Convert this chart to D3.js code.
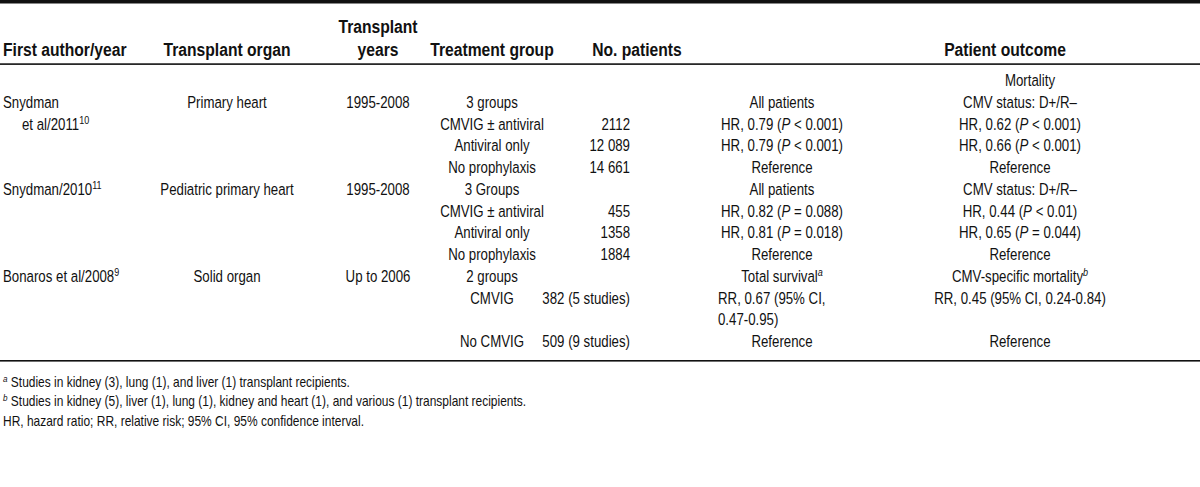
<!DOCTYPE html>
<html><head><meta charset="utf-8">
<script src="https://cdn.jsdelivr.net/npm/d3@7/dist/d3.min.js"></script>
<style>
html,body{margin:0;padding:0;background:#fff;}
svg{display:block;font-family:"Liberation Sans",Arial,Helvetica,sans-serif;}
</style></head><body>
<svg id="t" width="1200" height="487"></svg>
<script>
// ---- data ----
const headers = [
  {key:"author", lines:["First author/year"]},
  {key:"organ", lines:["Transplant organ"]},
  {key:"years", lines:["Transplant","years"]},
  {key:"group", lines:["Treatment group"]},
  {key:"patients", lines:["No. patients"]},
  {key:"outcome", lines:["Patient outcome"]}
];
const subHeader = "Mortality";
const authors = ["Snydman", "et al/2011^10^", "", "", "Snydman/2010^11^", "", "", "", "Bonaros et al/2008^9^", "", "", ""];
const organs = ["Primary heart", "", "", "", "Pediatric primary heart", "", "", "", "Solid organ", "", "", ""];
const years = ["1995-2008", "", "", "", "1995-2008", "", "", "", "Up to 2006", "", "", ""];
const groups = ["3 groups", "CMVIG ± antiviral", "Antiviral only", "No prophylaxis", "3 Groups", "CMVIG ± antiviral", "Antiviral only", "No prophylaxis", "2 groups", "CMVIG", "", "No CMVIG"];
const patients = ["", "2112", "12 089", "14 661", "", "455", "1358", "1884", "", "382 (5 studies)", "", "509 (9 studies)"];
const allPatients = ["All patients", "HR, 0.79 (*P* < 0.001)", "HR, 0.79 (*P* < 0.001)", "Reference", "All patients", "HR, 0.82 (*P* = 0.088)", "HR, 0.81 (*P* = 0.018)", "Reference", "Total survival^*a*^", "RR, 0.67 (95% CI,", "0.47-0.95)", "Reference"];
const cmvStatus = ["CMV status: D+/R–", "HR, 0.62 (*P* < 0.001)", "HR, 0.66 (*P* < 0.001)", "Reference", "CMV status: D+/R–", "HR, 0.44 (*P* < 0.01)", "HR, 0.65 (*P* = 0.044)", "Reference", "CMV-specific mortality^*b*^", "RR, 0.45 (95% CI, 0.24-0.84)", "", "Reference"];
const footnotes = [
  "^*a*^ Studies in kidney (3), lung (1), and liver (1) transplant recipients.",
  "^*b*^ Studies in kidney (5), liver (1), lung (1), kidney and heart (1), and various (1) transplant recipients.",
  "HR, hazard ratio; RR, relative risk; 95% CI, 95% confidence interval."
];

// ---- layout ----
const svg = d3.select("#t");
const W = 1200;
const ink = "#111";
const rowIdx = d3.range(authors.length);
const y = d3.scaleLinear().domain([0, authors.length - 1]).range([102, 341]);
const colX = d3.scaleOrdinal()
  .domain(["author","authorIndent","organ","years","group","patients","patientsHead","all","allLeft","cmv","outcome","mortality"])
  .range([3, 22, 227, 378, 492, 630, 637, 782, 718, 1020, 1005, 1030]);

const BODY = {fs: 17, sx: 0.78};
const HEAD = {fs: 18, sx: 0.87};
const FOOT = {fs: 14, sx: 0.855};

// parse markup: *x* italic, ^x^ superscript
function rich(sel, str, fs) {
  const parts = str.split(/(\^[^^]*\^)/);
  parts.forEach(p => {
    if (!p) return;
    let sup = false;
    if (p.startsWith("^") && p.endsWith("^")) { sup = true; p = p.slice(1, -1); }
    p.split(/(\*[^*]*\*)/).forEach(q => {
      if (!q) return;
      let it = false;
      if (q.startsWith("*") && q.endsWith("*")) { it = true; q = q.slice(1, -1); }
      const t = sel.append("tspan").text(q);
      if (it) t.attr("font-style", "italic");
      if (sup) t.attr("font-size", fs * 0.68).attr("baseline-shift", "super");
    });
  });
}
function place(sel, x, yy, st) {
  return sel.attr("transform", `translate(${x},${yy}) scale(${st.sx},1)`)
    .attr("dy", "0.35em").attr("font-size", st.fs).attr("fill", ink);
}

// rules
svg.append("rect").attr("x", 0).attr("y", 0).attr("width", W).attr("height", 3.5).attr("fill", ink);
svg.append("rect").attr("x", 0).attr("y", 63.3).attr("width", W).attr("height", 1.6).attr("fill", ink);
svg.append("rect").attr("x", 0).attr("y", 360).attr("width", W).attr("height", 1.6).attr("fill", ink);

// headers
const hAnchor = {author:"start", organ:"middle", years:"middle", group:"middle", patients:"middle", outcome:"middle"};
const hX = {author:colX("author"), organ:colX("organ"), years:colX("years"), group:colX("group"), patients:colX("patientsHead"), outcome:colX("outcome")};
headers.forEach(h => {
  h.lines.forEach((ln, i) => {
    const yy = 50 - (h.lines.length - 1 - i) * 23;
    place(svg.append("text"), hX[h.key], yy, HEAD)
      .attr("text-anchor", hAnchor[h.key]).attr("font-weight", "bold").text(ln);
  });
});

place(svg.append("text"), colX("mortality"), 80, BODY).attr("text-anchor", "middle").text(subHeader);

function column(arr, xf, anchor) {
  svg.append("g").selectAll("text").data(rowIdx.filter(i => arr[i])).join("text")
    .each(function(i){
      const s = d3.select(this);
      place(s, xf(i), y(i), BODY)
        .attr("text-anchor", typeof anchor === "function" ? anchor(i) : anchor);
      rich(s, arr[i], BODY.fs);
    });
}
column(authors, i => (i === 1 ? colX("authorIndent") : colX("author")), "start");
column(organs, () => colX("organ"), "middle");
column(years, () => colX("years"), "middle");
column(groups, () => colX("group"), "middle");
column(patients, () => colX("patients"), "end");
column(allPatients, i => (i === 9 || i === 10) ? colX("allLeft") : colX("all"), i => (i === 9 || i === 10) ? "start" : "middle");
column(cmvStatus, () => colX("cmv"), "middle");

// footnotes
const fy = d3.scaleLinear().domain([0, footnotes.length - 1]).range([382, 421]);
svg.append("g").selectAll("text").data(footnotes).join("text")
  .each(function(d, i){
    const s = d3.select(this);
    place(s, 3, fy(i), FOOT);
    rich(s, d, FOOT.fs);
  });
</script>
</body></html>
